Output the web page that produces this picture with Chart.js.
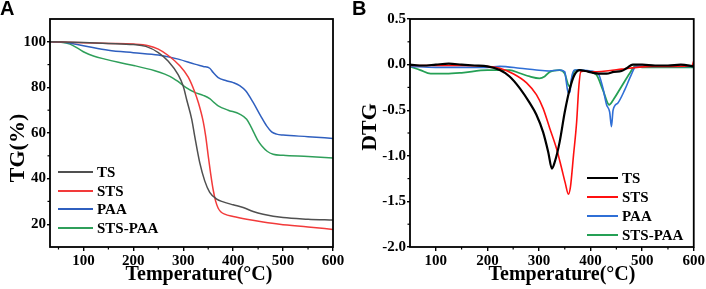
<!DOCTYPE html>
<html><head><meta charset="utf-8">
<script src="https://cdn.jsdelivr.net/npm/chart.js@4/dist/chart.umd.min.js"></script>
<style>
html,body{margin:0;padding:0;background:#fff;}
#wrap{position:relative;width:706px;height:289px;overflow:hidden;}
canvas{position:absolute;top:0;}
#ca{left:0;} #cb{left:353px;}
</style></head><body>
<div id="wrap"><canvas id="ca" width="353" height="289"></canvas><canvas id="cb" width="353" height="289"></canvas></div>
<script>
// ---------- Data: Panel A (TG) ----------
const seriesNames = ['TS','STS','PAA','STS-PAA'];
const tgTS_T   = [33,100,150,200,225,250,270,290,300,307,317,323,333,343,353,367,380,400,420,440,460,500,550,600];
const tgTS_V   = [100,99.7,99.3,98.8,98,95.3,91.5,85.5,80.5,74.5,66,58.5,47,39,34,31,29.8,28.5,27.3,25.6,24.4,22.9,22.2,21.8];
const tgSTS_T  = [33,100,150,200,230,250,270,293,310,323,330,340,345,350,355,360,365,370,375,383,400,427,460,493,550,600];
const tgSTS_V  = [100,99.6,99.3,99,98.3,96.8,94,89.5,84.5,78,73.5,65,58.5,50,42,35,30,27,25.5,24.4,23.4,22.2,21,20,18.8,17.7];
const tgPAA_T  = [33,60,100,150,200,250,290,323,340,353,360,370,385,400,413,425,440,455,467,477,487,500,550,600];
const tgPAA_V  = [100,99.8,98.3,96.3,95.2,94.2,92.4,90.2,89.2,88.4,86.5,84.3,83,82.1,80.8,78.5,73.4,67.5,63.1,60.5,59.5,59.1,58.4,57.6];
const tgMix_T  = [33,55,73,90,103,120,143,170,203,243,263,280,290,305,323,340,353,362,370,390,413,427,435,443,450,457,468,480,500,550,600];
const tgMix_V  = [100,99.8,99,97,95.3,93.8,92.4,91,89.5,87.3,85.8,84,82.5,80,77.8,76.5,75.1,73.3,71.9,70,68.3,66,63,59.5,56.5,54.4,52,50.7,50.2,49.7,49];
const xTicksA = [100,200,300,400,500,600];
const xMinorA = [50,150,250,350,450,550];
const yTicksA = [20,40,60,80,100];
const yMinorA = [30,50,70,90];

// ---------- Data: Panel B (DTG) ----------
const dtgTS_T  = [50,75,100,125,150,175,200,224,243,263,282,295,308,318,325,331,340,350,360,369,379,390,405,420,431,445,460,470,482,500,525,550,575,600];
const dtgTS_V  = [0,-0.01,0,0.01,0,-0.01,-0.02,-0.06,-0.13,-0.26,-0.42,-0.55,-0.74,-0.96,-1.14,-1.06,-0.85,-0.52,-0.26,-0.11,-0.06,-0.07,-0.09,-0.1,-0.1,-0.08,-0.07,-0.04,0,0,-0.01,-0.01,0,-0.02];
const dtgSTS_T = [50,100,150,200,224,250,276,295,308,321,334,344,351,357,361,367,373,377,381,390,400,430,460,490,520,560,597,600];
const dtgSTS_V = [-0.01,-0.01,-0.01,-0.02,-0.04,-0.1,-0.2,-0.33,-0.48,-0.7,-0.92,-1.14,-1.3,-1.42,-1.34,-0.99,-0.63,-0.26,-0.08,-0.07,-0.08,-0.07,-0.05,-0.03,-0.02,-0.02,-0.01,0.04];
const dtgPAA_T = [50,100,150,200,224,263,295,320,340,350,353,356.5,360,363,369,380,400,415,424,431,437,440.5,443.6,453,466,479,488,500,550,600];
const dtgPAA_V = [-0.02,-0.03,-0.03,-0.03,-0.02,-0.04,-0.06,-0.07,-0.06,-0.08,-0.19,-0.31,-0.3,-0.15,-0.06,-0.06,-0.07,-0.1,-0.26,-0.44,-0.52,-0.68,-0.5,-0.42,-0.28,-0.11,-0.02,-0.02,-0.02,-0.02];
const dtgMix_T = [50,70,90,120,150,200,243,263,282,301,311,321,340,350,356.5,360,366,372,390,411,424,436,443.6,460,476,486,500,550,600];
const dtgMix_V = [-0.02,-0.06,-0.1,-0.1,-0.09,-0.06,-0.06,-0.095,-0.13,-0.15,-0.13,-0.08,-0.06,-0.1,-0.22,-0.24,-0.1,-0.06,-0.07,-0.11,-0.28,-0.44,-0.39,-0.24,-0.095,-0.02,-0.03,-0.03,-0.03];
const xTicksB = [100,200,300,400,500,600];
const xMinorB = [150,250,350,450,550];
const yTicksB = [0.5,0.0,-0.5,-1.0,-1.5,-2.0];
const yMinorB = [0.25,-0.25,-0.75,-1.25,-1.75];

const colorsA = ['#505050','#f23a3a','#2f5fbf','#2f9f5a'];
const colorsB = ['#000000','#ff1010','#2f6fd6','#25a055'];

Chart.defaults.font.family = "'Liberation Serif', 'Times New Roman', serif";
Chart.defaults.font.weight = 'bold';
Chart.defaults.font.size = 15;
Chart.defaults.color = '#000';

function pts(T,V){ return T.map((t,i)=>({x:t,y:V[i]})); }
const tickFont = {family:"'Liberation Serif', 'Times New Roman', serif", weight:'bold', size:15};

const framePlugin = {
  id:'frame',
  afterDraw(chart, args, opts){
    const ctx = chart.ctx, a = chart.chartArea;
    ctx.save();
    ctx.strokeStyle = '#000'; ctx.lineWidth = 1.8;
    ctx.strokeRect(a.left, a.top, a.right-a.left, a.bottom-a.top);
    // minor ticks
    ctx.lineWidth = 1.2;
    const xs = chart.scales.x, ys = chart.scales.y;
    opts.xMinor.forEach(v=>{ const p = xs.getPixelForValue(v); ctx.beginPath(); ctx.moveTo(p,a.bottom); ctx.lineTo(p,a.bottom+2.5); ctx.stroke(); });
    opts.yMinor.forEach(v=>{ const p = ys.getPixelForValue(v); ctx.beginPath(); ctx.moveTo(a.left,p); ctx.lineTo(a.left-2.5,p); ctx.stroke(); });
    // panel letter
    ctx.fillStyle = '#000';
    ctx.font = 'bold 20px "Liberation Sans", Arial, sans-serif';
    ctx.textBaseline = 'top'; ctx.textAlign = 'left';
    ctx.fillText(opts.letter, opts.letterX, -1);
    // x title
    ctx.font = 'bold 20px "Liberation Serif", "Times New Roman", serif';
    ctx.textAlign = 'center'; ctx.textBaseline = 'alphabetic';
    ctx.fillText('Temperature(\u00B0C)', opts.xTitleX, 280);
    // y title
    ctx.save();
    ctx.translate(opts.yTitleX, opts.yTitleY);
    ctx.rotate(-Math.PI/2);
    ctx.font = opts.yTitleFont;
    ctx.textBaseline = 'middle';
    ctx.fillText(opts.yTitle, 0, 0);
    ctx.restore();
    // legend
    ctx.font = 'bold 15px "Liberation Serif", "Times New Roman", serif';
    ctx.textAlign = 'left'; ctx.textBaseline = 'middle';
    chart.data.datasets.forEach((ds,i)=>{
      const y = opts.legY[i];
      ctx.strokeStyle = ds.borderColor; ctx.lineWidth = 2;
      ctx.beginPath(); ctx.moveTo(opts.legX1,y); ctx.lineTo(opts.legX2,y); ctx.stroke();
      ctx.fillStyle = '#000';
      ctx.fillText(ds.label, opts.legX2+4, y+1);
    });
    ctx.restore();
  }
};

function makeScales(cfg){
  return {
    x:{type:'linear', min:cfg.xmin, max:cfg.xmax,
       afterBuildTicks:s=>{ s.ticks = cfg.xTicks.map(v=>({value:v})); },
       afterFit:s=>{ s.height = 42; },
       ticks:{font:tickFont, color:'#000', padding:1, maxRotation:0, autoSkip:false, callback:v=>String(v)},
       grid:{drawOnChartArea:false, drawTicks:true, tickLength:4, color:'#000', lineWidth:1.4},
       border:{display:false}},
    y:{type:'linear', min:cfg.ymin, max:cfg.ymax,
       afterBuildTicks:s=>{ s.ticks = cfg.yTicks.map(v=>({value:v})); },
       afterFit:s=>{ s.width = cfg.yWidth; },
       ticks:{font:tickFont, color:'#000', padding:1, autoSkip:false, callback:cfg.yFmt},
       grid:{drawOnChartArea:false, drawTicks:true, tickLength:3, color:'#000', lineWidth:1.4},
       border:{display:false}}
  };
}

function ds(label, data, color, w){
  return {label, data, borderColor:color, backgroundColor:color, borderWidth:w, pointRadius:0, tension:0, cubicInterpolationMode:'monotone', fill:false};
}

new Chart(document.getElementById('ca'), {
  type:'line',
  data:{datasets:[
    ds(seriesNames[0], pts(tgTS_T,tgTS_V), colorsA[0], 1.5),
    ds(seriesNames[1], pts(tgSTS_T,tgSTS_V), colorsA[1], 1.5),
    ds(seriesNames[2], pts(tgPAA_T,tgPAA_V), colorsA[2], 1.5),
    ds(seriesNames[3], pts(tgMix_T,tgMix_V), colorsA[3], 1.5)
  ]},
  options:{responsive:false, animation:false, devicePixelRatio:1,
    layout:{padding:{top:19,right:20,left:0,bottom:0}},
    plugins:{legend:{display:false}, tooltip:{enabled:false},
      frame:{letter:'A', letterX:0, xTitleX:199, yTitle:'TG(%)', yTitleX:18, yTitleY:148, yTitleFont:'bold 22px "Liberation Serif", "Times New Roman", serif',
        legX1:58, legX2:93, legY:[172,191,209,228], xMinor:xMinorA, yMinor:yMinorA}},
    scales:makeScales({xmin:33,xmax:600,ymin:10,ymax:110,xTicks:xTicksA,yTicks:yTicksA,yWidth:50,yFmt:v=>String(v)})
  },
  plugins:[framePlugin]
});

new Chart(document.getElementById('cb'), {
  type:'line',
  data:{datasets:[
    ds(seriesNames[0], pts(dtgTS_T,dtgTS_V), colorsB[0], 2.2),
    ds(seriesNames[1], pts(dtgSTS_T,dtgSTS_V), colorsB[1], 1.6),
    ds(seriesNames[2], pts(dtgPAA_T,dtgPAA_V), colorsB[2], 1.6),
    ds(seriesNames[3], pts(dtgMix_T,dtgMix_V), colorsB[3], 1.8)
  ]},
  options:{responsive:false, animation:false, devicePixelRatio:1,
    layout:{padding:{top:19,right:12,left:0,bottom:0}},
    plugins:{legend:{display:false}, tooltip:{enabled:false},
      frame:{letter:'B', letterX:-1, xTitleX:209, yTitle:'DTG', yTitleX:17, yTitleY:127, yTitleFont:'bold 22px "Liberation Serif", "Times New Roman", serif',
        legX1:234, legX2:265, legY:[178,197,216,235], xMinor:xMinorB, yMinor:yMinorB}},
    scales:makeScales({xmin:50,xmax:600,ymin:-2.0,ymax:0.5,xTicks:xTicksB,yTicks:yTicksB,yWidth:57,yFmt:v=>v.toFixed(1)})
  },
  plugins:[framePlugin]
});
</script>
</body></html>
